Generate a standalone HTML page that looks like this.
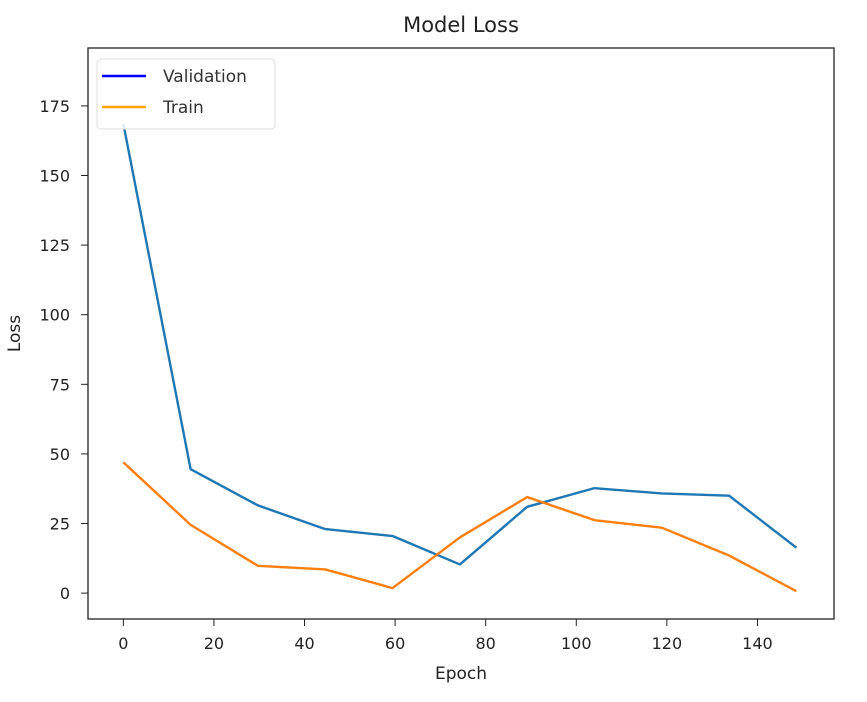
<!DOCTYPE html>
<html><head><meta charset="utf-8"><style>
body{margin:0;background:#fff;}
svg{display:block;font-family:"DejaVu Sans","Liberation Sans",sans-serif;}
</style></head><body>
<svg id="chart" width="867" height="702">
<text x="461" y="32" text-anchor="middle" font-size="21" fill="#222">Model Loss</text>
<g id="plot"></g>
</svg>
<script>
const epochs=[0,14.86,29.72,44.58,59.44,74.3,89.16,104.02,118.88,133.74,148.6];
const valLoss=[168.6,44.5,31.5,23,20.5,10.3,31,37.7,35.8,35,16.3];
const trainLoss=[47,24.5,9.8,8.5,1.8,20,34.5,26.2,23.5,13.5,0.7];
const xTicks=[0,20,40,60,80,100,120,140];
const yTicks=[0,25,50,75,100,125,150,175];
const L=88,R=834,T=48,B=619,xmin=-7.8,xmax=156.9,ymin=-9.3,ymax=195.8;
const sx=v=>L+(v-xmin)/(xmax-xmin)*(R-L);
const sy=v=>B-(v-ymin)/(ymax-ymin)*(B-T);
const NS="http://www.w3.org/2000/svg";
const g=document.getElementById('plot');
function mk(t,a){const e=document.createElementNS(NS,t);for(const k in a)e.setAttribute(k,a[k]);g.appendChild(e);return e;}
xTicks.forEach(v=>{
 const l=mk('line',{x1:sx(v),x2:sx(v),y1:B,y2:B+7,stroke:'#222'});
 
 
 const t=mk('text',{x:sx(v),y:B+30,'text-anchor':'middle','font-size':16,fill:'#222'});t.textContent=v;
 
 
});
yTicks.forEach(v=>{
 const l=mk('line',{x1:L-7,x2:L,y1:sy(v),y2:sy(v),stroke:'#222'});
 
 
 const t=mk('text',{x:L-18,y:sy(v)+6,'text-anchor':'end','font-size':16,fill:'#222'});t.textContent=v;
 
 
});
function line(data,color,name){
 const p=mk('polyline',{points:data.map((v,i)=>sx(epochs[i])+','+sy(v)).join(' '),fill:'none',stroke:color,'stroke-width':2.4,'stroke-linejoin':'round'});
 
 
}
line(valLoss,'#1f77b4','validation-line');
line(trainLoss,'#ff7f0e','train-line');
const fr=mk('rect',{x:L,y:T,width:R-L,height:B-T,fill:'none',stroke:'#222','stroke-width':1.3});


const xl=mk('text',{x:(L+R)/2,y:679,'text-anchor':'middle','font-size':17,fill:'#222'});xl.textContent='Epoch';


const yl=mk('text',{x:20,y:(T+B)/2,'text-anchor':'middle','font-size':17,fill:'#222',transform:'rotate(-90 20 '+((T+B)/2)+')'});yl.textContent='Loss';


const lg=mk('rect',{x:97,y:59,width:178,height:70,rx:4,fill:'#fff','fill-opacity':0.85,stroke:'#ddd'});


[['Validation','#0000ff',76],['Train','#ffa500',107]].forEach(([n,c,y])=>{
 const l=mk('line',{x1:102,x2:146,y1:y,y2:y,stroke:c,'stroke-width':2.4});
 
 
 const t=mk('text',{x:163,y:y+6,'font-size':17,fill:'#333'});t.textContent=n;
 
 
});
</script>
</body></html>
